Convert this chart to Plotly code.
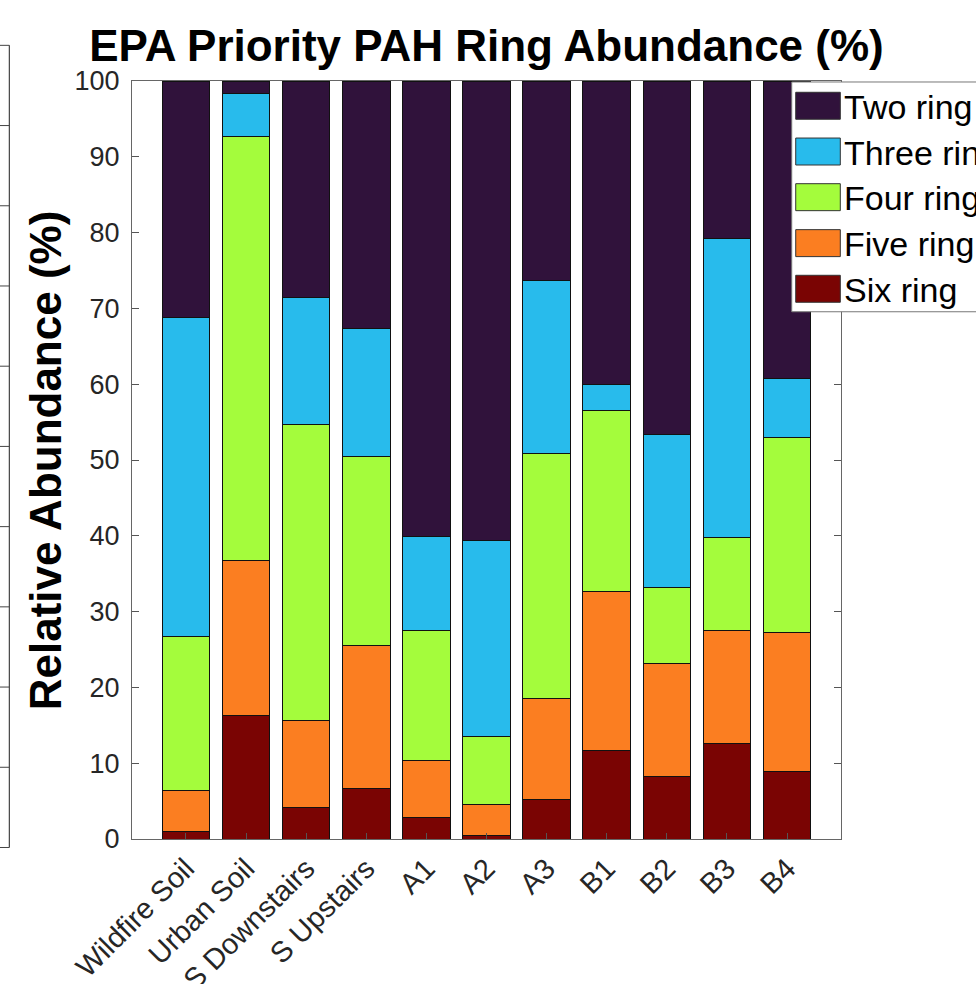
import plotly.graph_objects as go

# Sample sites along the x axis
sites = ["Wildfire Soil", "Urban Soil", "S Downstairs", "S Upstairs",
         "A1", "A2", "A3", "B1", "B2", "B3", "B4"]

# Relative abundance (%) of each ring class per site
six_ring = [1.0, 16.3, 4.2, 6.6, 2.8, 0.4, 5.2, 11.7, 8.2, 12.6, 8.9]
five_ring = [5.4, 20.5, 11.4, 18.9, 7.6, 4.1, 13.3, 21.0, 14.9, 14.9, 18.4]
four_ring = [20.3, 55.9, 39.1, 24.9, 17.1, 9.0, 32.3, 23.8, 10.1, 12.3, 25.7]
three_ring = [42.1, 5.6, 16.7, 16.9, 12.4, 25.9, 22.9, 3.4, 20.1, 39.4, 7.7]
two_ring = [31.2, 1.7, 28.6, 32.7, 60.1, 60.6, 26.3, 40.1, 46.7, 20.8, 39.3]

y_ticks = [0, 10, 20, 30, 40, 50, 60, 70, 80, 90, 100]

# Stack order bottom -> top
series = [
    ("Six ring", six_ring, "#7a0403"),
    ("Five ring", five_ring, "#fb7e21"),
    ("Four ring", four_ring, "#a4fc3c"),
    ("Three ring", three_ring, "#28bbec"),
    ("Two ring", two_ring, "#30123b"),
]

W, H = 976, 984
L, R, T, B = 131.7, 841.0, 80.7, 839.5
PW, PH = R - L, B - T


def px_x(x):
    return (x - L) / PW


def px_y(y):
    return (B - y) / PH


FONT = "Liberation Sans, Arial, sans-serif"
AX = "#262626"

fig = go.Figure()
for name, vals, color in series:
    fig.add_trace(go.Bar(
        x=sites, y=vals, name=name,
        marker=dict(color=color, line=dict(color="#111111", width=1)),
        showlegend=False,
    ))

fig.update_layout(
    width=W, height=H,
    margin=dict(l=L, r=W - R, t=T, b=H - B, pad=0),
    barmode="stack", bargap=0.21,
    plot_bgcolor="white", paper_bgcolor="white",
    font=dict(family=FONT, color=AX),
    title=dict(text="<b>EPA Priority PAH Ring Abundance (%)</b>",
               x=0.5, xref="paper", y=1 - 46 / H, yref="container",
               xanchor="center", yanchor="middle",
               font=dict(size=44, color="#000000", family=FONT)),
)

fig.update_xaxes(
    range=[-0.897, 10.897], tickangle=-45, automargin=False,
    tickfont=dict(size=29, color=AX),
    ticks="inside", ticklen=6, tickcolor="#555555",
    showline=True, linecolor="#666666", linewidth=1, mirror=True,
    showgrid=False, zeroline=False,
)
fig.update_yaxes(
    range=[0, 100], tickvals=y_ticks, automargin=False,
    tickfont=dict(size=27, color=AX),
    ticks="inside", ticklen=7, tickcolor="#555555",
    showline=True, linecolor="#666666", linewidth=1, mirror="ticks",
    showgrid=False, zeroline=False, ticklabelstandoff=6,
)

# Vertical axis title
fig.add_annotation(
    text="<b>Relative Abundance (%)</b>", textangle=-90,
    x=px_x(46), y=px_y(460), xref="paper", yref="paper",
    xanchor="center", yanchor="middle", showarrow=False,
    font=dict(size=44, color="#000000", family=FONT),
)

# Legend box with large swatches, top entry first
shapes = []
shapes.append(dict(type="rect", xref="paper", yref="paper", layer="above",
                   x0=px_x(791.7), x1=px_x(1010), y0=px_y(311.7), y1=px_y(81.7),
                   fillcolor="white", line=dict(color="#777777", width=1)))
row_centers = [105.5, 151.3, 197.0, 243.0, 288.7]
for (name, _, color), cy in zip(reversed(series), row_centers):
    shapes.append(dict(type="rect", xref="paper", yref="paper", layer="above",
                       x0=px_x(795.7), x1=px_x(840.3),
                       y0=px_y(cy + 13.5), y1=px_y(cy - 13.5),
                       fillcolor=color, line=dict(color="#333333", width=1)))
    fig.add_annotation(text=name, x=px_x(842), y=px_y(cy + 1),
                       xref="paper", yref="paper", xanchor="left", yanchor="middle",
                       showarrow=False, font=dict(size=34, color="#000000", family=FONT))

# Frame of the adjacent panel at the far left
frame_col = "#444444"
shapes.append(dict(type="line", xref="paper", yref="paper",
                   x0=px_x(9), x1=px_x(9), y0=px_y(45), y1=px_y(848),
                   line=dict(color=frame_col, width=1.2)))
for k in range(11):
    yy = 45 + k * 80.3
    shapes.append(dict(type="line", xref="paper", yref="paper",
                       x0=px_x(-2), x1=px_x(9), y0=px_y(yy), y1=px_y(yy),
                       line=dict(color=frame_col, width=1)))

fig.update_layout(shapes=shapes)

fig.write_html("out.html")
